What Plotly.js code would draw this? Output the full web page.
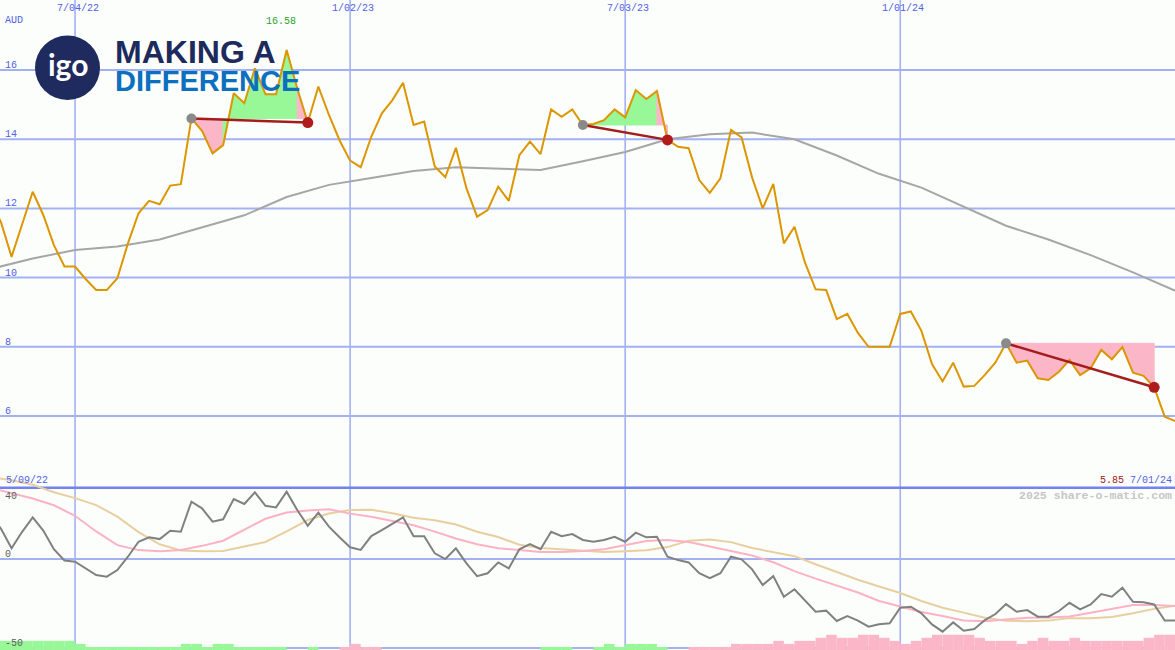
<!DOCTYPE html>
<html>
<head>
<meta charset="utf-8">
<script src="https://cdn.plot.ly/plotly-3.0.1.min.js"></script>
<style>
html,body{margin:0;padding:0;background:#fcfefc;}
#chart{width:1175px;height:650px;}
</style>
</head>
<body>
<div id="chart"></div>
<script>
// ---------- DATA (weekly, week 0 = 5/09/22) ----------
const price = [12.2, 11.6, 10.60, 11.55, 12.48, 11.81, 10.94, 10.32, 10.32, 9.96,
  9.64, 9.64, 9.98, 10.99, 11.86, 12.22, 12.12, 12.66, 12.70, 14.60,
  14.24, 13.59, 13.83, 15.33, 15.04, 16.05, 15.30, 15.30, 16.58, 15.47,
  14.48, 15.52, 14.70, 13.97, 13.38, 13.19, 14.07, 14.75, 15.13, 15.63,
  14.41, 14.51, 13.21, 12.90, 13.75, 12.58, 11.76, 11.95, 12.63, 12.22,
  13.54, 13.93, 13.57, 14.86, 14.65, 14.86, 14.41, 14.44, 14.55, 14.86,
  14.63, 15.42, 15.16, 15.39, 13.98, 13.78, 13.74, 12.82, 12.45, 12.87,
  14.27, 14.05, 12.89, 12.00, 12.71, 10.99, 11.47, 10.43, 9.66, 9.64,
  8.80, 8.95, 8.40, 8.00, 8.00, 8.00, 8.95, 9.02, 8.46, 7.50,
  7.00, 7.54, 6.85, 6.87, 7.19, 7.55, 8.10, 7.54, 7.60, 7.09,
  7.04, 7.28, 7.62, 7.18, 7.38, 7.91, 7.64, 7.99, 7.25, 7.16,
  6.83, 5.98, 5.85];

const maWeeks = [0, 4, 8, 12, 16, 20, 24, 28, 32, 36, 40, 44, 48, 52, 56, 60, 64, 68, 72, 76, 80, 84, 88, 92, 96, 100, 104, 108, 112];
const maValues = [10.25, 10.55, 10.80, 10.90, 11.10, 11.45, 11.80, 12.33, 12.68, 12.88, 13.08, 13.19, 13.16, 13.11, 13.36, 13.63, 14.0, 14.14, 14.19, 14.0, 13.53, 13.0, 12.60, 12.05, 11.50, 11.10, 10.65, 10.15, 9.62];

const osc = [25, 17, 6.0, 15.3, 23.4, 16.0, 5.5, -0.8, -1.5, -5.2,
  -9.0, -9.9, -6.2, 1.3, 9.7, 12.2, 11.2, 15.9, 15.3, 32.2,
  28.5, 21.0, 22.3, 33.7, 30.9, 37.5, 29.9, 29.0, 37.8, 27.5,
  18.7, 26.0, 18.2, 12.2, 6.6, 5.1, 12.9, 16.3, 19.8, 23.4,
  12.8, 12.8, 3.2, 0.0, 6.0, -2.4, -9.6, -8.0, -1.9, -5.2,
  5.5, 8.4, 5.5, 15.3, 12.8, 14.0, 10.7, 9.7, 10.7, 12.5,
  9.7, 14.8, 12.2, 12.5, 1.3, -0.6, -1.9, -8.0, -10.8, -8.0,
  1.3, -0.2, -5.8, -14.6, -9.6, -21.2, -17.0, -23.5, -29.6, -29.0,
  -34.8, -32.0, -34.6, -38.0, -36.7, -36.1, -27.3, -26.8, -30.5, -36.7,
  -40.8, -35.6, -40.3, -39.3, -34.3, -30.9, -25.3, -29.6, -28.7, -32.4,
  -32.4, -29.2, -24.6, -28.3, -25.5, -19.7, -21.2, -16.1, -24.0, -24.3,
  -25.5, -34.6, -34.6];

const smoothWeeks = [0,2,4,6,8,10,12,14,16,18,20,22,24,26,28,30,32,34,36,38,40,42,44,46,48,50,52,54,56,58,60,62,64,66,68,70,72,74,76,78,80,82,84,86,88,90,92,94,96,98,100,102,104,106,108,110,112];
const pinkAvg = [40, 37, 34, 30.2, 24.3, 15.5, 7.8, 5.0, 4.3, 5.1, 7.4, 10.3, 16.4, 22.6, 26.1, 27.3, 27.9, 25.5, 23.8, 21.6, 19.0, 15.4, 11.5, 8.3, 6.1, 5.1, 3.9, 4.0, 4.5, 5.5, 7.7, 10.1, 10.7, 9.6, 7.0, 4.3, 2.0, -1.8, -6.8, -11.0, -15.0, -18.8, -23.6, -26.8, -29.8, -32.0, -34.5, -34.9, -34.0, -33.0, -32.8, -32.3, -30.2, -27.8, -25.8, -25.8, -26.4];
const tanAvg = [46, 44.3, 41.7, 37.5, 34.2, 30.3, 23.8, 15.1, 8.3, 4.8, 4.3, 4.5, 7.0, 9.6, 15.5, 21.9, 25.6, 27.6, 27.7, 25.7, 23.2, 21.8, 19.4, 15.3, 12.4, 8.0, 6.2, 5.3, 4.4, 3.9, 4.3, 4.9, 6.7, 10.3, 10.9, 9.5, 6.2, 3.9, 1.6, -2.9, -7.4, -11.6, -15.4, -19.1, -23.6, -27.4, -30.1, -33.0, -34.7, -35.0, -34.6, -33.2, -33.2, -32.5, -30.5, -28.0, -26.2];

// bottom strip levels per week (green = up, pink = down)
const barGreen = [3,3,3,3,3,3,3,3,2,1, 1,1,1,1,1,1,1,1,2,2, 1,2,2,1,1,1,1,1,0,0,
  1,0,0,0,0,0,0,0,0,0, 0,0,0,0,0,0,0,0,0,0, 0,0,1,1,1,0,0,1,2,1,
  2,2,2,1,0,0,0,0,0,0, 0,0,0,0,0,0,0,0,0,0, 0,0,0,0,0,0,0,0,0,0,
  0,0,0,0,0,0,0,0,0,0, 0,0,0,0,0,0,0,0,0,0, 0,0];
const barPink = [0,0,0,0,0,0,0,0,0,0, 0,0,0,0,0,0,0,0,0,0, 0,0,0,0,0,0,0,0,0,0,
  0,0,0,1,2,1,1,0,0,0, 0,0,0,0,0,0,0,0,0,0, 0,0,0,0,0,0,0,0,0,0,
  0,0,0,0,0,0,1,1,1,1, 2,2,2,2,3,2,3,3,4,5, 4,4,5,5,4,3,2,3,4,5,
  5,5,5,4,3,3,3,2,3,4, 3,3,4,3,3,3,3,3,3,4, 5,5];

const epStart = [19, 56, 96];
const epEnd = [30, 64, 110];

const mainTicks = [6, 8, 10, 12, 14, 16];
const lowTicks = [0, -50];
const lowLabels = [{v: 40, t: '40'}, {v: 0, t: '0'}, {v: -50, t: '-50'}];
const dateTickWeeks = [8, 34, 60, 86];
const dateTickText = ['7/04/22', '1/02/23', '7/03/23', '1/01/24'];
const startDate = '5/09/22';
const endDate = '7/01/24';
const currency = 'AUD';

// ---------- COLOURS ----------
const C = {
  bg: '#fcfefc', grid: '#a3b1f2', sep: '#7282ee', price: '#dc9600', ma: '#a6a6a6',
  green: '#98f898', pink: '#fbb6c8', trend: '#a51c1c', startDot: '#8a8a8a', endDot: '#b01c1c',
  osc: '#808080', pinkLine: '#fbb2c4', tanLine: '#e8cfa0', label: '#5060e8'
};

const weeks = price.map((_, i) => i);
const traces = [];

// bottom strip
traces.push({type: 'bar', x: weeks.slice(0, barGreen.length), y: barGreen, yaxis: 'y3', width: 1, offset: 0,
  marker: {color: C.green, line: {width: 0}}, hoverinfo: 'skip'});
traces.push({type: 'bar', x: weeks.slice(0, barPink.length), y: barPink, yaxis: 'y3', width: 1, offset: 0,
  marker: {color: C.pink, line: {width: 0}}, hoverinfo: 'skip'});

// lower panel lines
traces.push({type: 'scatter', mode: 'lines', x: smoothWeeks, y: tanAvg, yaxis: 'y2', line: {color: C.tanLine, width: 2}, hoverinfo: 'skip'});
traces.push({type: 'scatter', mode: 'lines', x: smoothWeeks, y: pinkAvg, yaxis: 'y2', line: {color: C.pinkLine, width: 2}, hoverinfo: 'skip'});
traces.push({type: 'scatter', mode: 'lines', x: weeks, y: osc, yaxis: 'y2', line: {color: C.osc, width: 2}, hoverinfo: 'skip'});

// episode fills (one polygon per weekly segment, coloured by where the segment ends vs. the start level)
epStart.forEach((s, k) => {
  const e = epEnd[k];
  const level = price[s];
  for (let i = s; i < e; i++) {
    const col = price[i + 1] >= level ? C.green : C.pink;
    traces.push({type: 'scatter', mode: 'lines', x: [i, i, i + 1, i + 1, i], y: [level, price[i], price[i + 1], level, level],
      fill: 'toself', fillcolor: col, line: {width: 1, color: col}, hoverinfo: 'skip'});
  }
});

// moving average
traces.push({type: 'scatter', mode: 'lines', x: maWeeks, y: maValues, line: {color: C.ma, width: 2}, hoverinfo: 'skip'});
// price
traces.push({type: 'scatter', mode: 'lines', x: weeks, y: price, line: {color: C.price, width: 2}, hoverinfo: 'skip'});
// trend lines and dots
epStart.forEach((s, k) => {
  const e = epEnd[k];
  traces.push({type: 'scatter', mode: 'lines', x: [s, e], y: [price[s], price[e]], line: {color: C.trend, width: 2.5}, hoverinfo: 'skip'});
  traces.push({type: 'scatter', mode: 'markers', x: [s], y: [price[s]], marker: {color: C.startDot, size: 10}, hoverinfo: 'skip'});
  traces.push({type: 'scatter', mode: 'markers', x: [e], y: [price[e]], marker: {color: C.endDot, size: 11}, hoverinfo: 'skip'});
});

// ---------- SHAPES (grid) ----------
const shapes = [];
mainTicks.forEach(t => shapes.push({type: 'line', xref: 'paper', x0: 0, x1: 1, yref: 'y', y0: t, y1: t, line: {color: C.grid, width: 2}, layer: 'below'}));
lowTicks.forEach(t => shapes.push({type: 'line', xref: 'paper', x0: 0, x1: 1, yref: 'y2', y0: t, y1: t, line: {color: C.grid, width: 2}, layer: 'below'}));
dateTickWeeks.forEach(w => shapes.push({type: 'line', xref: 'x', x0: w, x1: w, yref: 'paper', y0: 0, y1: 1, line: {color: C.grid, width: 1.6}, layer: 'below'}));
shapes.push({type: 'line', xref: 'paper', x0: 0, x1: 1, yref: 'y2', y0: 40, y1: 40, line: {color: C.sep, width: 2.5}, layer: 'below'});
// logo circle
shapes.push({type: 'circle', xref: 'paper', yref: 'paper', x0: 35 / 1175, x1: 100 / 1175, y0: 1 - 100 / 650, y1: 1 - 35.5 / 650,
  fillcolor: '#1f2b5e', line: {width: 0}, layer: 'above'});

// ---------- ANNOTATIONS ----------
const mono = 'Liberation Mono, DejaVu Sans Mono, monospace';
const ann = [];
mainTicks.forEach(t => ann.push({text: String(t), xref: 'paper', x: 0, xanchor: 'left', xshift: 3, yref: 'y', y: t, yanchor: 'bottom', yshift: -3,
  showarrow: false, font: {family: mono, size: 10, color: C.label}}));
lowLabels.forEach(o => ann.push({text: o.t, xref: 'paper', x: 0, xanchor: 'left', xshift: 3, yref: 'y2', y: o.v,
  yanchor: o.v === 40 ? 'top' : 'bottom', yshift: o.v === 40 ? -1 : -3, showarrow: false, font: {family: mono, size: 10, color: '#5c5c5c'}}));
dateTickWeeks.forEach((w, i) => ann.push({text: dateTickText[i], xref: 'x', x: w, xanchor: 'center', xshift: 3, yref: 'paper', y: 1, yanchor: 'top', yshift: -1,
  showarrow: false, font: {family: mono, size: 10, color: C.label}}));
ann.push({text: currency, xref: 'paper', x: 0, xanchor: 'left', xshift: 3, yref: 'paper', y: 1, yanchor: 'top', yshift: -13,
  showarrow: false, font: {family: mono, size: 10, color: C.label}});
const maxV = Math.max(...price);
const maxI = price.indexOf(maxV);
ann.push({text: maxV.toFixed(2), xref: 'x', x: maxI, xanchor: 'center', xshift: -6, yref: 'paper', y: 1, yanchor: 'top', yshift: -14,
  showarrow: false, font: {family: mono, size: 10, color: '#2e9e2e'}});
ann.push({text: startDate, xref: 'paper', x: 0, xanchor: 'left', xshift: 4, yref: 'y2', y: 40, yanchor: 'bottom', yshift: 0,
  showarrow: false, font: {family: mono, size: 10, color: C.label}});
const lastV = price[price.length - 1];
ann.push({text: '<span style="color:#a01818">' + lastV.toFixed(2) + '</span> ' + endDate, xref: 'paper', x: 1, xanchor: 'right', xshift: -1,
  yref: 'y2', y: 40, yanchor: 'bottom', yshift: 0, showarrow: false, font: {family: mono, size: 10, color: C.label}});
ann.push({text: '<b>2025 share-o-matic.com</b>', xref: 'paper', x: 1, xanchor: 'right', xshift: -1, yref: 'y2', y: 40, yanchor: 'top', yshift: 1,
  showarrow: false, font: {family: mono, size: 11.6, color: '#c6c6c6'}});
// logo text
ann.push({text: '<b>igo</b>', xref: 'paper', x: 68 / 1175, xanchor: 'center', yref: 'paper', y: 1 - 64 / 650, yanchor: 'middle',
  showarrow: false, font: {family: 'Lato, Noto Sans, sans-serif', size: 30, color: '#ffffff'}});
ann.push({text: '<b>MAKING A</b>', xref: 'paper', x: 114 / 1175, xanchor: 'left', yref: 'paper', y: 1 - 52 / 650, yanchor: 'middle',
  showarrow: false, borderpad: 0, font: {family: 'Liberation Sans, Arial, sans-serif', size: 32, color: '#1d2a5c'}});
ann.push({text: '<b>DIFFERENCE</b>', xref: 'paper', x: 114 / 1175, xanchor: 'left', yref: 'paper', y: 1 - 81 / 650, yanchor: 'middle',
  showarrow: false, borderpad: 0, font: {family: 'Liberation Sans, Arial, sans-serif', size: 29, color: '#0b70bf'}});

const layout = {
  width: 1175, height: 650,
  margin: {l: 0, r: 0, t: 0, b: 0, pad: 0},
  paper_bgcolor: C.bg, plot_bgcolor: C.bg,
  showlegend: false, barmode: 'overlay', hovermode: false,
  xaxis: {range: [0.907, 111.97], visible: false, fixedrange: true},
  yaxis: {range: [-0.763, 18.023], visible: false, domain: [0, 1]},
  yaxis2: {range: [-51.1, 314.0], visible: false, overlaying: 'y'},
  yaxis3: {range: [0, 650 / 3.05], visible: false, overlaying: 'y'},
  shapes: shapes, annotations: ann
};

Plotly.newPlot('chart', traces, layout, {staticPlot: true, displayModeBar: false});
</script>
</body>
</html>
